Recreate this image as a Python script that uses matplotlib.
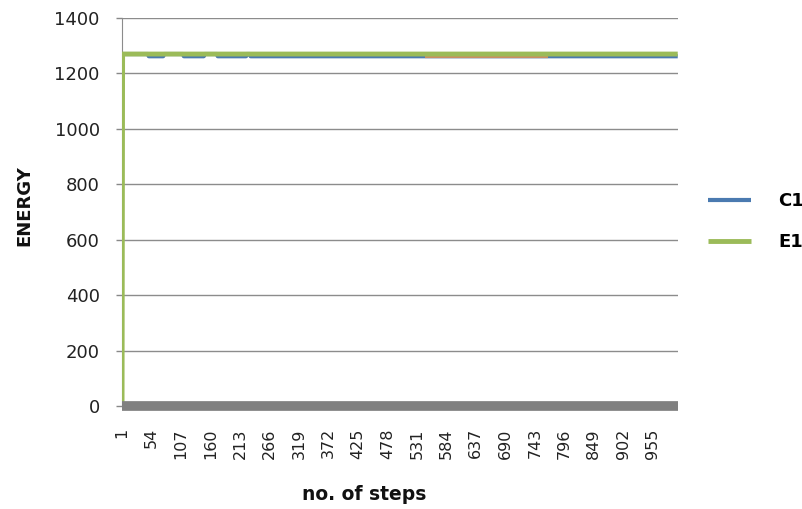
import numpy as np
import matplotlib.pyplot as plt

# step counts and series values (piecewise constant runs)
n_steps = 1000
steps = np.arange(1, n_steps + 1)

e1_levels = [0, 1270]
e1_runs = [1, 999]

c1_levels = [1270, 1262, 1270, 1262, 1270, 1262, 1270, 1262]
c1_runs = [48, 27, 36, 37, 24, 52, 7, 769]

# short reddish segment between the two lines
red_start, red_end = 545, 766
red_level = 1262

tick_step = 53
y_ticks = [0, 200, 400, 600, 800, 1000, 1200, 1400]

e1 = np.repeat(e1_levels, e1_runs)
c1 = np.repeat(c1_levels, c1_runs)
red_x = steps[(steps >= red_start) & (steps <= red_end)]
red_y = np.full(len(red_x), red_level)

fig = plt.figure(figsize=(8.03, 5.09), dpi=100)
ax = fig.add_axes([0.152, 0.2024, 0.692, 0.7622])

ax.plot(steps, c1, color='#4a7ab0', lw=3, solid_capstyle='butt', label='C1', zorder=3)
ax.plot(red_x, red_y, color='#c98e62', lw=3, solid_capstyle='butt', zorder=4)
ax.plot(steps, e1, color='#9bbb59', lw=3.5, solid_capstyle='butt', label='E1', zorder=5)

ax.set_xlim(1, n_steps)
ax.set_ylim(0, 1400)
ax.set_yticks(y_ticks)
ax.set_xticks(steps[::tick_step])
ax.set_xticklabels([str(s) for s in steps[::tick_step]], rotation=90, fontsize=11.5, color='#222222')
ax.tick_params(axis='y', labelsize=13, colors='#222222', length=4, width=1, color='#888888', pad=12)
ax.tick_params(axis='x', length=0, pad=16)

ax.grid(axis='y', color='#8c8c8c', lw=1)
ax.set_axisbelow(True)
for side in ['top', 'right']:
    ax.spines[side].set_visible(False)
ax.spines['left'].set_color('#8c8c8c')
ax.spines['bottom'].set_color('#808080')
ax.spines['bottom'].set_linewidth(7)
ax.spines['bottom'].set_capstyle('butt')
ax.spines['bottom'].set_zorder(6)

fig.text(24 / 803, 1 - 206 / 509, 'ENERGY', rotation=90, ha='center', va='center',
         fontsize=13, fontweight='bold', color='#111111')
fig.text(364 / 803, 1 - 495 / 509, 'no. of steps', ha='center', va='center',
         fontsize=13.5, fontweight='bold', color='#111111')

leg = ax.legend(loc='center left', bbox_to_anchor=(1.025, 0.475), frameon=False,
                prop={'size': 13, 'weight': 'bold'}, handlelength=2.4, handletextpad=1.5,
                labelspacing=1.25)

fig.savefig('out.png', dpi=100)
